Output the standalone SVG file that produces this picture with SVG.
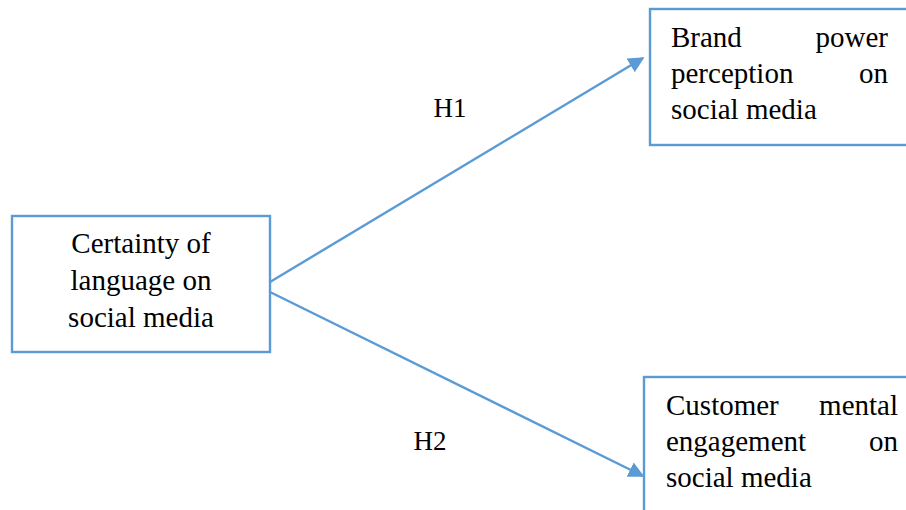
<svg xmlns="http://www.w3.org/2000/svg" width="906" height="510" viewBox="0 0 906 510">
<style>
.box{fill:#fff;stroke:#5B9BD5;stroke-width:2.4}
.t{font-family:'Liberation Serif','Times New Roman',serif;font-size:29px;fill:#000}
.c{text-anchor:middle}
.e{text-anchor:end}
.ln{stroke:#5B9BD5;stroke-width:2.4;fill:none}
</style>
<defs>
<marker id="arr" viewBox="0 0 10 10" refX="9" refY="5" markerWidth="16" markerHeight="16" markerUnits="userSpaceOnUse" orient="auto">
<path d="M0,0 L10,5 L0,10 z" fill="#5B9BD5"/>
</marker>
</defs>
<rect width="906" height="510" fill="#fff"/>
<g id="connectors">
<line class="ln" x1="270" y1="282" x2="643" y2="58" marker-end="url(#arr)"/>
<line class="ln" x1="270" y1="292" x2="643" y2="476" marker-end="url(#arr)"/>
<text class="t c" x="450" y="117" style="font-size:27px">H1</text>
<text class="t c" x="430" y="450" style="font-size:27px">H2</text>
</g>
<g id="certainty">
<rect class="box" x="12" y="216" width="258" height="136"/>
<text class="t c" x="141" y="253">Certainty of</text>
<text class="t c" x="141" y="290">language on</text>
<text class="t c" x="141" y="327">social media</text>
</g>
<g id="brand">
<rect class="box" x="650" y="9" width="270" height="136"/>
<text class="t" x="671" y="47">Brand</text>
<text class="t e" x="888" y="47">power</text>
<text class="t" x="671" y="83">perception</text>
<text class="t e" x="888" y="83">on</text>
<text class="t" x="671" y="119">social media</text>
</g>
<g id="customer">
<rect class="box" x="644" y="377" width="280" height="150"/>
<text class="t" x="666" y="415">Customer</text>
<text class="t e" x="898" y="415">mental</text>
<text class="t" x="666" y="451">engagement</text>
<text class="t e" x="898" y="451">on</text>
<text class="t" x="666" y="487">social media</text>
</g>
</svg>
